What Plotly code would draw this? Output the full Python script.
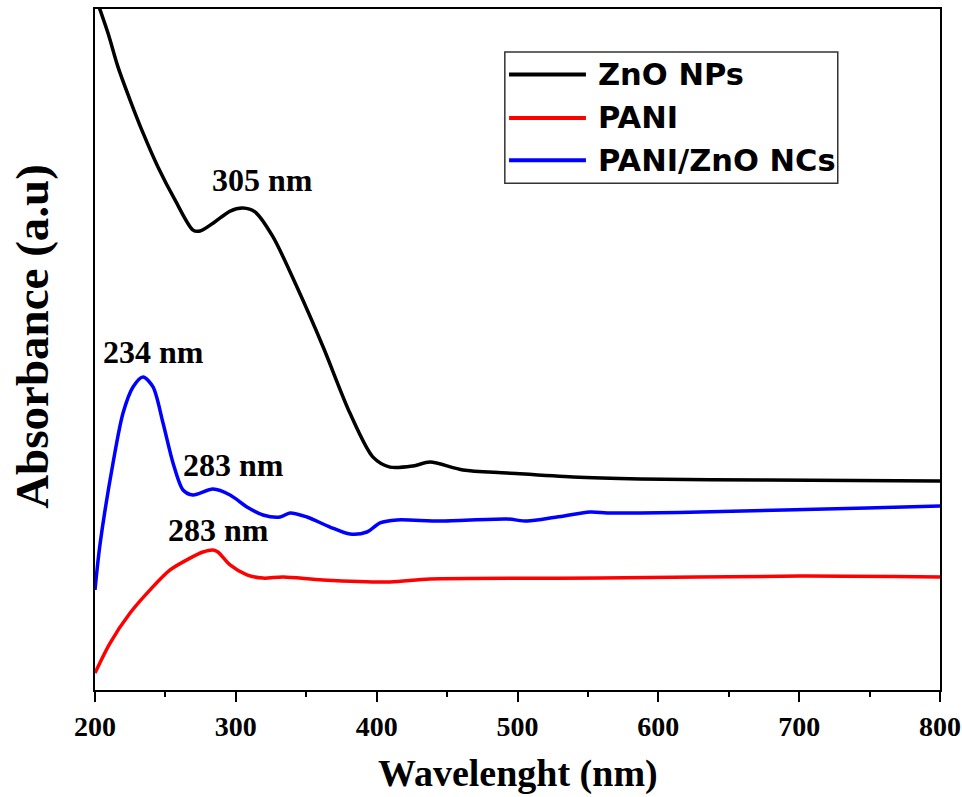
import plotly.graph_objects as go

# UV-Vis absorbance spectra (arbitrary units)
wl_zno = [200, 209.2, 216.3, 224.9, 234.1, 244.7, 256.8, 269.6, 274.6, 285, 296,
          305, 313.6, 326.4, 343.4, 362, 381, 397.4, 409.5, 425.8, 437.9, 461.3, 492.6,
          539.4, 587, 677, 800]
abs_zno = [3.06, 2.894, 2.745, 2.599, 2.454, 2.304, 2.159, 2.026, 2.022, 2.062,
           2.110, 2.123, 2.106, 1.996, 1.775, 1.511, 1.220, 1.026, 0.982, 0.987, 1.004,
           0.969, 0.956, 0.938, 0.930, 0.925, 0.921]

wl_pani = [200, 210.7, 224.9, 239.1, 253.3, 267.5, 276.7, 283.8, 287.3, 295.9, 307.9,
           319.3, 333.5, 361.9, 409.5, 437.9, 558.6, 700.6, 800]
abs_pani = [0.075, 0.207, 0.339, 0.441, 0.529, 0.581, 0.608, 0.617, 0.608, 0.551, 0.507,
            0.493, 0.498, 0.485, 0.476, 0.489, 0.493, 0.502, 0.498]

wl_nc = [200, 203.5, 212.8, 219.9, 227, 234.1, 241.2, 248.3, 255.4, 262.5, 269.6, 283.8,
         295.9, 307.9, 319.3, 331.4, 338.5, 350.5, 366.9, 381.1, 393.1, 402.4, 414.4,
         445, 492.6, 506.8, 528, 551.5, 563.6, 587, 629.6, 748.2, 800]
abs_nc = [0.441, 0.639, 1.000, 1.220, 1.335, 1.379, 1.335, 1.176, 1.000, 0.881, 0.859,
          0.885, 0.859, 0.806, 0.771, 0.762, 0.780, 0.762, 0.718, 0.687, 0.696, 0.736,
          0.749, 0.744, 0.753, 0.744, 0.762, 0.784, 0.780, 0.780, 0.784, 0.802, 0.811]

# peak labels: (text, wavelength, y centre)
peak_labels = [("305 nm", 318.6, 2.247), ("234 nm", 241.2, 1.489),
               ("283 nm", 298.0, 0.991), ("283 nm", 287.4, 0.705)]

x_ticks = [200, 300, 400, 500, 600, 700, 800]

serif = "Liberation Serif"
series = [("ZnO NPs", wl_zno, abs_zno, "#000000"),
          ("PANI", wl_pani, abs_pani, "#ff0000"),
          ("PANI/ZnO NCs", wl_nc, abs_nc, "#0000ff")]

fig = go.Figure()
for name, x, y, color in series:
    fig.add_trace(go.Scatter(x=x, y=y, name=name, mode="lines", showlegend=False,
                             line=dict(color=color, width=3.5, shape="spline",
                                       smoothing=0.8)))

for text, x, y in peak_labels:
    fig.add_annotation(x=x, y=y, text=f"<b>{text}</b>", showarrow=False,
                       font=dict(family=serif, size=32, color="black"),
                       xanchor="center", yanchor="middle")

# legend box with long line samples (paper coordinates)
leg_x0, leg_x1, leg_y0, leg_y1 = 0.485, 0.879, 0.744, 0.937
row_y = [0.904, 0.840, 0.778]
fig.add_shape(type="rect", xref="paper", yref="paper",
              x0=leg_x0, x1=leg_x1, y0=leg_y0, y1=leg_y1,
              line=dict(color="#333333", width=1.5), fillcolor="white", layer="above")
for (name, _, _, color), ry in zip(series, row_y):
    fig.add_shape(type="line", xref="paper", yref="paper",
                  x0=0.490, x1=0.581, y0=ry, y1=ry,
                  line=dict(color=color, width=4), layer="above")
    fig.add_annotation(xref="paper", yref="paper", x=0.593, y=ry,
                       text=f"<b>{name}</b>", showarrow=False,
                       xanchor="left", yanchor="middle",
                       font=dict(family="DejaVu Sans", size=30.5, color="black"))

# axis titles
fig.add_annotation(xref="paper", yref="paper", x=0.5, y=-0.1219,
                   text="<b>Wavelenght (nm)</b>", showarrow=False,
                   xanchor="center", yanchor="middle",
                   font=dict(family=serif, size=38, color="black"))
fig.add_annotation(xref="paper", yref="paper", x=-0.0746, y=0.520,
                   text="<b>Absorbance (a.u)</b>", showarrow=False, textangle=-90,
                   xanchor="center", yanchor="middle",
                   font=dict(family=serif, size=47, color="black"))

fig.update_layout(
    width=962, height=797,
    margin=dict(l=95, r=22, t=9, b=107),
    paper_bgcolor="white", plot_bgcolor="white",
    showlegend=False,
    xaxis=dict(range=[200, 800], tickvals=x_ticks,
               ticktext=[f"<b>{v}</b>" for v in x_ticks],
               ticks="outside", ticklen=10, tickwidth=2, tickcolor="black",
               minor=dict(tickvals=[250, 350, 450, 550, 650, 750], ticks="outside",
                          ticklen=5, tickwidth=2, tickcolor="black"),
               showline=True, linecolor="black", linewidth=2, mirror=True,
               showgrid=False, zeroline=False, automargin=False,
               tickfont=dict(family=serif, size=28, color="black")),
    yaxis=dict(range=[0, 3.0], showticklabels=False, ticks="",
               showline=True, linecolor="black", linewidth=2, mirror=True,
               showgrid=False, zeroline=False, automargin=False),
)

fig.write_html("out.html")
